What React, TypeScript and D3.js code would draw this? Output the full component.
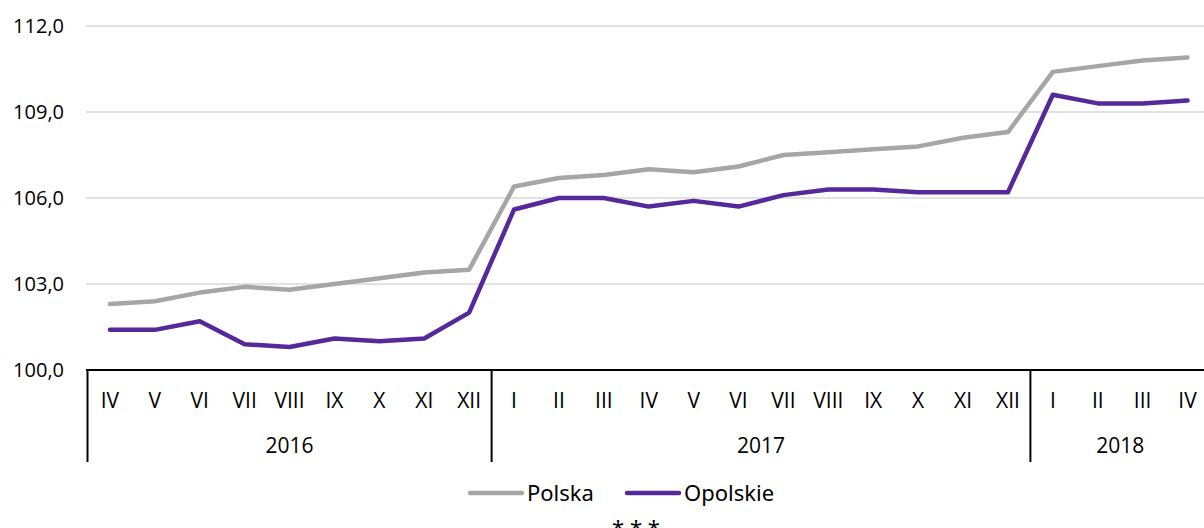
import React, { useEffect, useRef } from 'react';
import * as d3 from 'd3';

const months = ['IV', 'V', 'VI', 'VII', 'VIII', 'IX', 'X', 'XI', 'XII',
  'I', 'II', 'III', 'IV', 'V', 'VI', 'VII', 'VIII', 'IX', 'X', 'XI', 'XII',
  'I', 'II', 'III', 'IV'];
const years = [
  { label: '2016', count: 9 },
  { label: '2017', count: 12 },
  { label: '2018', count: 4 },
];
const polska = [102.3, 102.4, 102.7, 102.9, 102.8, 103.0, 103.2, 103.4, 103.5,
  106.4, 106.7, 106.8, 107.0, 106.9, 107.1, 107.5, 107.6, 107.7, 107.8, 108.1, 108.3,
  110.4, 110.6, 110.8, 110.9];
const opolskie = [101.4, 101.4, 101.7, 100.9, 100.8, 101.1, 101.0, 101.1, 102.0,
  105.6, 106.0, 106.0, 105.7, 105.9, 105.7, 106.1, 106.3, 106.3, 106.2, 106.2, 106.2,
  109.6, 109.3, 109.3, 109.4];
const yTicks = [100, 103, 106, 109, 112];
const series = [
  { name: 'Polska', values: polska, color: '#a6a6a6' },
  { name: 'Opolskie', values: opolskie, color: '#56289a' },
];

const App = () => {
  const ref = useRef<SVGSVGElement>(null);

  useEffect(() => {
    const svg = d3.select(ref.current);
    svg.selectAll('*').remove();

    const width = 1204;
    const left = 87.5;
    const right = 1210;
    const top = 26;
    const bottom = 370;
    const tickFont = '"Open Sans", "Noto Sans", sans-serif';
    const legendFont = '"Noto Sans", "Open Sans", sans-serif';

    const x = d3.scaleBand<number>()
      .domain(months.map((_, i) => i))
      .range([left, right]);
    const y = d3.scaleLinear().domain([100, 112]).range([bottom, top]);

    // gridlines
    svg.append('g')
      .selectAll('line')
      .data(yTicks.slice(1))
      .join('line')
      .attr('x1', 86).attr('x2', width)
      .attr('y1', d => y(d)).attr('y2', d => y(d))
      .attr('stroke', '#d9d9d9').attr('stroke-width', 1.3);

    // y labels
    svg.append('g')
      .selectAll('text')
      .data(yTicks)
      .join('text')
      .attr('x', 64).attr('y', d => y(d))
      .attr('dy', '0.35em')
      .attr('text-anchor', 'end')
      .style('font-family', tickFont)
      .style('font-size', '20px')
      .attr('fill', '#000')
      .text(d => d3.format('.1f')(d).replace('.', ','));

    // x axis line
    svg.append('line')
      .attr('x1', 86).attr('x2', width)
      .attr('y1', bottom).attr('y2', bottom)
      .attr('stroke', '#000').attr('stroke-width', 2);

    // month labels
    svg.append('g')
      .selectAll('text')
      .data(months)
      .join('text')
      .attr('x', (_, i) => (x(i) as number) + x.bandwidth() / 2)
      .attr('y', 408)
      .attr('text-anchor', 'middle')
      .style('font-family', tickFont)
      .style('font-size', '21px')
      .text(d => d);

    // year groups
    let start = 0;
    const bounds: number[] = [0];
    const yearPos = years.map(yr => {
      const s = start;
      start += yr.count;
      bounds.push(start);
      return { label: yr.label, s, e: start };
    });
    svg.append('g')
      .selectAll('line')
      .data(bounds.slice(0, -1))
      .join('line')
      .attr('x1', d => (x(d) as number)).attr('x2', d => (x(d) as number))
      .attr('y1', bottom).attr('y2', 462)
      .attr('stroke', '#000').attr('stroke-width', 2);
    svg.append('g')
      .selectAll('text')
      .data(yearPos)
      .join('text')
      .attr('x', d => ((x(d.s) as number) + (x(d.e - 1) as number) + x.bandwidth()) / 2)
      .attr('y', 453)
      .attr('text-anchor', 'middle')
      .style('font-family', tickFont)
      .style('font-size', '21px')
      .text(d => d.label);

    // lines
    const line = d3.line<number>()
      .x((_, i) => (x(i) as number) + x.bandwidth() / 2)
      .y(d => y(d));
    svg.append('g')
      .selectAll('path')
      .data(series)
      .join('path')
      .attr('d', d => line(d.values))
      .attr('fill', 'none')
      .attr('stroke', d => d.color)
      .attr('stroke-width', 4.5)
      .attr('stroke-linejoin', 'round')
      .attr('stroke-linecap', 'round');

    // legend
    const legendX = [470, 627];
    const lg = svg.append('g')
      .selectAll('g')
      .data(series)
      .join('g')
      .attr('transform', (_, i) => `translate(${legendX[i]},493)`);
    lg.append('line')
      .attr('x1', 0).attr('x2', 52)
      .attr('stroke', d => d.color)
      .attr('stroke-width', 4.5)
      .attr('stroke-linecap', 'round');
    lg.append('text')
      .attr('x', 57).attr('dy', '0.35em')
      .style('font-family', legendFont)
      .style('font-size', '22px')
      .text(d => d.name);

    svg.append('text')
      .attr('x', 636).attr('y', 536)
      .attr('text-anchor', 'middle')
      .style('font-family', legendFont)
      .style('font-size', '22px')
      .text('* * *');
  }, []);

  return (
    <svg
      ref={ref}
      width={1204}
      height={528}
      style={{ position: 'absolute', left: 0, top: 0, display: 'block', background: '#fff' }}
    />
  );
};

export default App;
